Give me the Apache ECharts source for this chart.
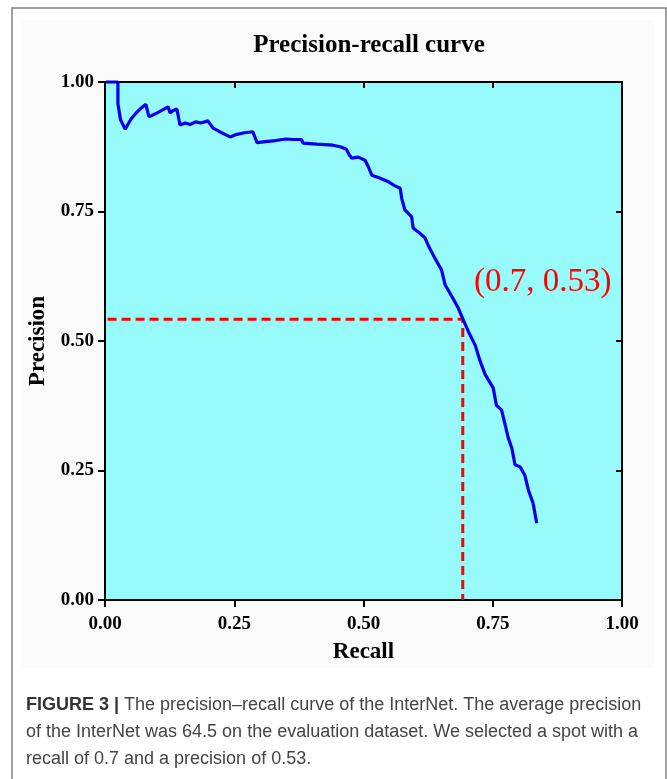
<!DOCTYPE html>
<html><head><meta charset="utf-8">
<script src="https://cdn.jsdelivr.net/npm/echarts@6/dist/echarts.min.js"></script>
<style>html,body{margin:0;padding:0;background:#fff}#c{width:667px;height:779px}</style>
</head><body><div id="c"></div>
<script>
const recall = [0.002,0.025,0.025,0.028,0.030,0.033,0.039,0.050,0.060,0.070,0.079,0.082,0.085,0.100,0.115,0.122,0.126,0.130,0.139,0.145,0.155,0.165,0.175,0.185,0.199,0.209,0.220,0.232,0.242,0.255,0.270,0.286,0.294,0.310,0.330,0.350,0.365,0.380,0.383,0.410,0.441,0.455,0.467,0.472,0.477,0.490,0.503,0.510,0.516,0.530,0.547,0.560,0.571,0.574,0.580,0.593,0.596,0.609,0.619,0.625,0.638,0.651,0.658,0.671,0.683,0.693,0.703,0.716,0.725,0.735,0.751,0.757,0.767,0.774,0.780,0.787,0.793,0.803,0.812,0.819,0.828,0.835];
const precision = [1.000,1.000,0.958,0.958,0.927,0.927,0.909,0.928,0.940,0.950,0.957,0.945,0.933,0.940,0.948,0.952,0.940,0.944,0.948,0.917,0.921,0.918,0.923,0.921,0.925,0.911,0.905,0.899,0.894,0.899,0.902,0.904,0.883,0.885,0.887,0.890,0.889,0.889,0.882,0.880,0.878,0.875,0.870,0.860,0.853,0.855,0.849,0.835,0.820,0.815,0.808,0.800,0.795,0.775,0.753,0.740,0.718,0.708,0.699,0.685,0.660,0.637,0.608,0.586,0.564,0.541,0.518,0.492,0.463,0.436,0.409,0.376,0.367,0.338,0.313,0.293,0.261,0.257,0.241,0.212,0.187,0.148];
const guideX = [0.005, 0.692, 0.692];
const guideY = [0.542, 0.542, 0.0];
const titleText = 'Precision-recall curve';
const xName = 'Recall';
const yName = 'Precision';
const pointLabel = '(0.7, 0.53)';
const captionLines = [
  ['FIGURE 3 | ', 'The precision\u2013recall curve of the InterNet. The average precision'],
  ['', 'of the InterNet was 64.5 on the evaluation dataset. We selected a spot with a'],
  ['', 'recall of 0.7 and a precision of 0.53.']
];

const serif = '"Liberation Serif", "DejaVu Serif", serif';
const sans = '"Liberation Sans", Arial, sans-serif';
const curve = recall.map((r, i) => [r, precision[i]]);
const guide = guideX.map((x, i) => [x, guideY[i]]);
const fmt = v => v.toFixed(2);

const chart = echarts.init(document.getElementById('c'), null, {renderer: 'canvas'});
const labelStyle = {color: '#000', fontFamily: serif, fontWeight: 'bold', fontSize: 19};
const captionGraphics = captionLines.map((ln, i) => ({
  type: 'text', left: 26, top: 696 + i * 27, z: 10,
  style: {
    rich: {
      b: {fontFamily: sans, fontWeight: 'bold', fontSize: 18, fill: '#333'},
      n: {fontFamily: sans, fontSize: 18, fill: '#444'}
    },
    text: (ln[0] ? '{b|' + ln[0] + '}' : '') + '{n|' + ln[1] + '}'
  }
}));

chart.setOption({
  animation: false,
  backgroundColor: '#fff',
  title: {
    text: titleText, left: 364, top: 28, textAlign: 'center',
    textStyle: {fontFamily: serif, fontWeight: 'bold', fontSize: 25, color: '#000'}
  },
  grid: {left: 105, right: 45, top: 82, bottom: 179, backgroundColor: '#98FBFB', show: true, borderWidth: 0},
  graphic: [
    {type: 'rect', shape: {x: 12, y: 8, width: 654, height: 800}, style: {fill: '#fff', stroke: '#808080', lineWidth: 1.5}, z: -10, silent: true},
    {type: 'rect', shape: {x: 21, y: 20, width: 634, height: 648}, style: {fill: '#fafafa'}, z: -9, silent: true},
    {type: 'text', left: 474, top: 266, z: 10,
     style: {text: pointLabel, fontFamily: serif, fontSize: 33, fill: '#FF0000'}}
  ].concat(captionGraphics),
  xAxis: [
    {type: 'value', min: 0, max: 1, interval: 0.25, position: 'bottom',
     name: xName, nameLocation: 'middle', nameGap: 41,
     nameTextStyle: {fontFamily: serif, fontWeight: 'bold', fontSize: 23, color: '#000'},
     axisLine: {show: true, onZero: false, lineStyle: {color: '#000', width: 2}},
     axisTick: {show: true, length: 7, lineStyle: {color: '#000', width: 2}},
     axisLabel: Object.assign({formatter: fmt, margin: 15}, labelStyle),
     splitLine: {show: false}},
    {type: 'value', min: 0, max: 1, interval: 0.25, position: 'top',
     axisLine: {show: true, onZero: false, lineStyle: {color: '#000', width: 2}},
     axisTick: {show: true, inside: true, length: 6, lineStyle: {color: '#000', width: 2}},
     axisLabel: {show: false}, splitLine: {show: false}}
  ],
  yAxis: [
    {type: 'value', min: 0, max: 1, interval: 0.25, position: 'left',
     name: yName, nameLocation: 'middle', nameGap: 50,
     nameTextStyle: {fontFamily: serif, fontWeight: 'bold', fontSize: 23, color: '#000'},
     axisLine: {show: true, onZero: false, lineStyle: {color: '#000', width: 2}},
     axisTick: {show: true, length: 7, lineStyle: {color: '#000', width: 2}},
     axisLabel: Object.assign({formatter: fmt, margin: 11}, labelStyle),
     splitLine: {show: false}},
    {type: 'value', min: 0, max: 1, interval: 0.25, position: 'right',
     axisLine: {show: true, onZero: false, lineStyle: {color: '#000', width: 2}},
     axisTick: {show: true, inside: true, length: 6, lineStyle: {color: '#000', width: 2}},
     axisLabel: {show: false}, splitLine: {show: false}}
  ],
  series: [
    {type: 'line', data: guide, showSymbol: false, z: 3,
     lineStyle: {color: '#FF0000', width: 3, type: [9, 5]}},
    {type: 'line', data: curve, showSymbol: false, z: 4, clip: false,
     lineStyle: {color: '#0000EE', width: 3.2}}
  ]
});
</script></body></html>
